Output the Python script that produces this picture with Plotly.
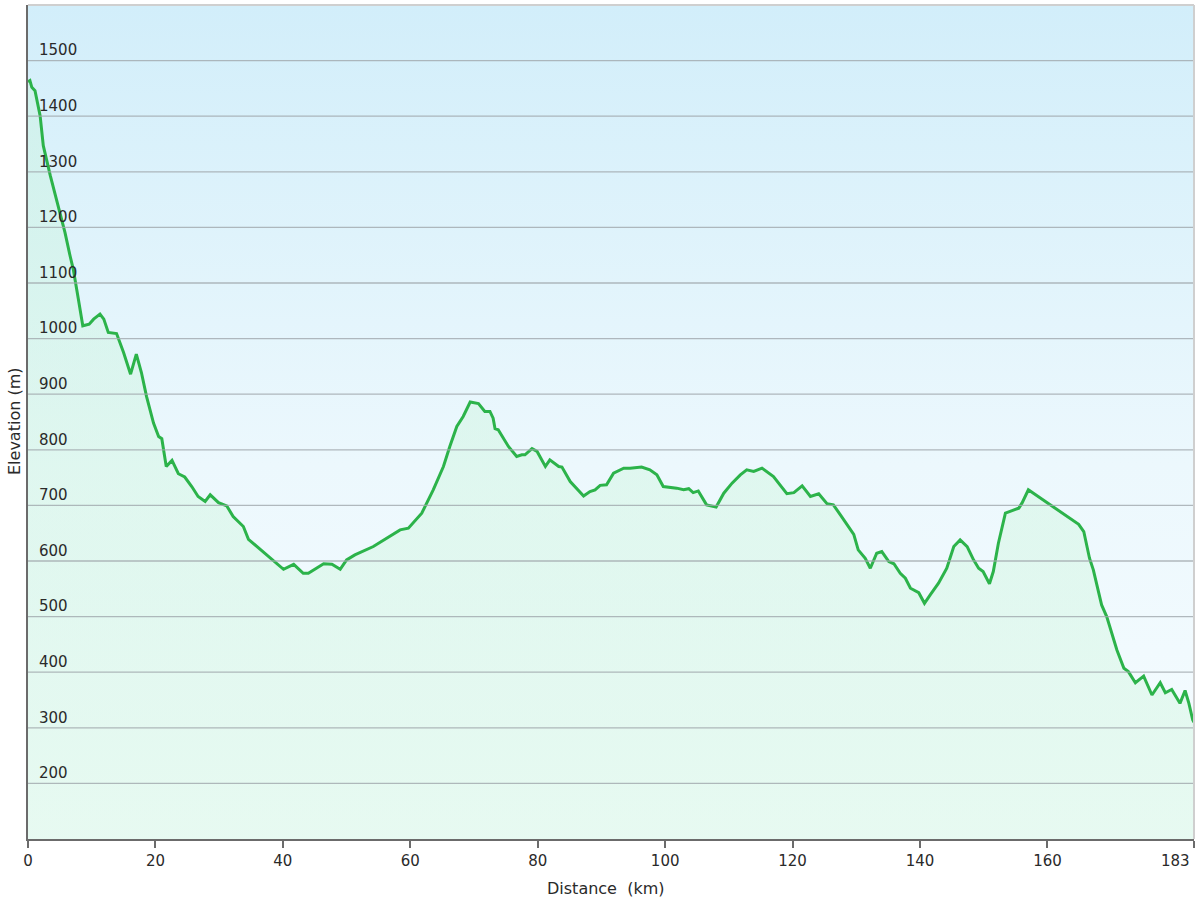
import plotly.graph_objects as go

# ---- data ----
distance_km = [
    0.0, 0.3, 0.6, 1.1, 1.9, 2.4, 3.5, 4.2, 5.0, 5.8, 6.6, 7.1, 7.9, 8.6, 9.6, 10.3,
    11.3, 11.9, 12.6, 13.9, 15.0, 16.1, 17.0, 17.8, 18.6, 19.7, 20.5, 21.0, 21.7, 22.6,
    23.6, 24.6, 25.7, 26.7, 27.8, 28.6, 29.9, 31.2, 32.2, 33.8, 34.6, 37.0, 39.6, 40.1,
    41.7, 43.2, 44.0, 46.4, 47.7, 49.0, 50.0, 51.3, 54.2, 56.3, 58.4, 59.7, 61.8, 63.6,
    65.2, 66.2, 67.3, 68.3, 69.4, 70.7, 71.7, 72.5, 73.0, 73.3, 73.8, 75.4, 76.7, 77.5,
    78.0, 79.1, 79.9, 81.2, 81.9, 83.3, 83.8, 85.1, 86.1, 87.2, 88.2, 89.0, 89.8, 90.8,
    91.9, 93.5, 94.5, 96.3, 97.6, 98.7, 99.7, 101.8, 102.9, 103.7, 104.4, 105.2, 106.5,
    108.0, 109.2, 110.5, 111.8, 112.8, 113.9, 115.2, 117.0, 118.3, 119.1, 120.2, 121.5,
    122.8, 124.1, 125.4, 126.4, 127.5, 128.8, 129.6, 130.3, 131.4, 132.2, 133.2, 134.0,
    135.1, 135.9, 136.9, 137.7, 138.5, 139.8, 140.7, 141.6, 142.9, 144.2, 145.3, 146.3,
    147.4, 148.4, 149.2, 149.9, 150.9, 151.5, 152.3, 153.4, 155.5, 156.0, 157.0, 164.9,
    165.7, 166.6, 167.2, 168.5, 169.3, 170.9, 172.0, 172.7, 173.8, 175.1, 176.4, 177.7,
    178.5, 179.5, 180.8, 181.6, 182.2, 182.8, 183.0,
]
elevation_m = [
    1462, 1464, 1452, 1446, 1401, 1347, 1293, 1263, 1227, 1191, 1149, 1125, 1071, 1023, 1026, 1035,
    1044, 1035, 1011, 1009, 975, 936, 972, 939, 896, 848, 824, 820, 770, 781,
    757, 751, 734, 716, 707, 719, 705, 699, 680, 662, 639, 615, 590, 585,
    594, 578, 578, 595, 594, 585, 602, 611, 626, 641, 656, 659, 686, 728,
    770, 806, 842, 860, 886, 883, 869, 869, 857, 838, 836, 806, 788, 791,
    791, 802, 797, 770, 782, 770, 769, 743, 731, 717, 725, 728, 736, 737,
    758, 767, 767, 769, 764, 755, 734, 731, 728, 730, 723, 726, 701,
    697, 722, 740, 755, 764, 761, 767, 752, 734, 721, 723, 735,
    716, 721, 703, 701, 683, 662, 648, 620, 605, 587, 614, 617,
    599, 595, 578, 569, 551, 543, 524, 539, 560, 587, 626, 638,
    626, 602, 587, 581, 559, 581, 632, 686, 695, 704, 728, 666,
    653, 605, 584, 521, 500, 440, 407, 401, 381, 393, 359, 381,
    363, 369, 344, 367, 344, 314, 310,
]

x_tick_vals = [0, 20, 40, 60, 80, 100, 120, 140, 160, 183]
x_tick_text = ["0", "20", "40", "60", "80", "100", "120", "140", "160", "183"]
y_tick_vals = [200, 300, 400, 500, 600, 700, 800, 900, 1000, 1100, 1200, 1300, 1400, 1500]
x_range = [0, 183]
y_range = [100, 1600]

FONT = "DejaVu Sans, Verdana, sans-serif"
TXT = "#2a2a2a"

# the last label sits left of its tick (right-aligned to the axis end), as in the reference:
# it is drawn as an annotation anchored at that tick, the axis shows the others
x_tick_labels = list(x_tick_text)
x_tick_labels[-1] = ""

fig = go.Figure()

# background gradient (sky)
fig.add_trace(go.Scatter(
    x=[x_range[0], x_range[1], x_range[1], x_range[0], x_range[0]],
    y=[y_range[0], y_range[0], y_range[1], y_range[1], y_range[0]],
    mode="none", fill="toself",
    fillgradient=dict(type="vertical", start=y_range[0], stop=y_range[1],
                      colorscale=[[0, "rgb(246,252,255)"], [0.45, "rgb(236,248,253)"],
                                  [1, "rgb(210,238,250)"]]),
    hoverinfo="skip", showlegend=False,
))

# gridlines (drawn as a trace so they sit above the background gradient)
gx, gy = [], []
for v in y_tick_vals:
    gx += [x_range[0], x_range[1], None]
    gy += [v, v, None]
fig.add_trace(go.Scatter(
    x=gx, y=gy, mode="lines", yaxis="y2",
    line=dict(color="rgba(160,168,172,0.8)", width=1.3),
    hoverinfo="skip", showlegend=False,
))

# elevation profile
fig.add_trace(go.Scatter(
    x=distance_km, y=elevation_m, mode="lines",
    line=dict(color="#2cb34a", width=3),
    fill="tozeroy",
    fillgradient=dict(type="vertical", start=y_range[0], stop=y_range[1],
                      colorscale=[[0, "rgba(218,248,230,0.55)"], [1, "rgba(195,242,215,0.35)"]]),
    hoverinfo="x+y", showlegend=False,
))

fig.update_layout(
    width=1200, height=900,
    margin=dict(l=28, r=6, t=5, b=61),
    paper_bgcolor="white", plot_bgcolor="white",
    font=dict(family=FONT, size=15, color=TXT),
    showlegend=False,
    xaxis=dict(
        range=x_range, tickvals=x_tick_vals, ticktext=x_tick_labels,
        showgrid=False, zeroline=False, automargin=False,
        showline=True, linecolor="#6b6b6b", linewidth=2,
        ticks="outside", ticklen=7, tickwidth=2, tickcolor="#6b6b6b",
        ticklabeloverflow="allow",
        tickfont=dict(family=FONT, size=15, color=TXT),
    ),
    yaxis=dict(
        range=y_range, showticklabels=False,
        showgrid=False, zeroline=False, automargin=False,
        showline=True, linecolor="#6b6b6b", linewidth=2, ticks="",
    ),
    # label axis: sits on the left edge, labels drawn to its right (inside the plot)
    yaxis2=dict(
        range=y_range, tickvals=y_tick_vals, overlaying="y", side="right",
        anchor="free", position=0,
        showgrid=False, zeroline=False, automargin=False, showline=False,
        ticks="", ticklabelposition="outside top", ticklabelstandoff=10,
        ticklabeloverflow="allow",
        tickfont=dict(family=FONT, size=15, color=TXT),
    ),
    shapes=[
        dict(type="line", xref="paper", yref="paper", x0=0, x1=1, y0=1, y1=1,
             line=dict(color="#cfcfcf", width=2)),
        dict(type="line", xref="paper", yref="paper", x0=1, x1=1, y0=0, y1=1,
             line=dict(color="#cfcfcf", width=2)),
    ],
    annotations=[
        dict(text=x_tick_text[-1], xref="x", yref="paper", x=x_tick_vals[-1], y=0,
             xanchor="right", yanchor="middle", xshift=-2, yshift=-22,
             showarrow=False, font=dict(family=FONT, size=15, color=TXT)),
        dict(text="Elevation\u00a0(m)", xref="paper", yref="paper", x=0, y=0.5,
             xanchor="center", yanchor="middle", xshift=-14, textangle=-90,
             showarrow=False, font=dict(family=FONT, size=16, color=TXT)),
        dict(text="Distance\u00a0\u00a0(km)", xref="paper", yref="paper", x=0.5, y=0,
             xanchor="center", yanchor="middle", xshift=-6, yshift=-49,
             showarrow=False, font=dict(family=FONT, size=16, color=TXT)),
    ],
)

fig.write_html("out.html", config={"displayModeBar": False},
               post_script="document.body.style.margin='0';")
